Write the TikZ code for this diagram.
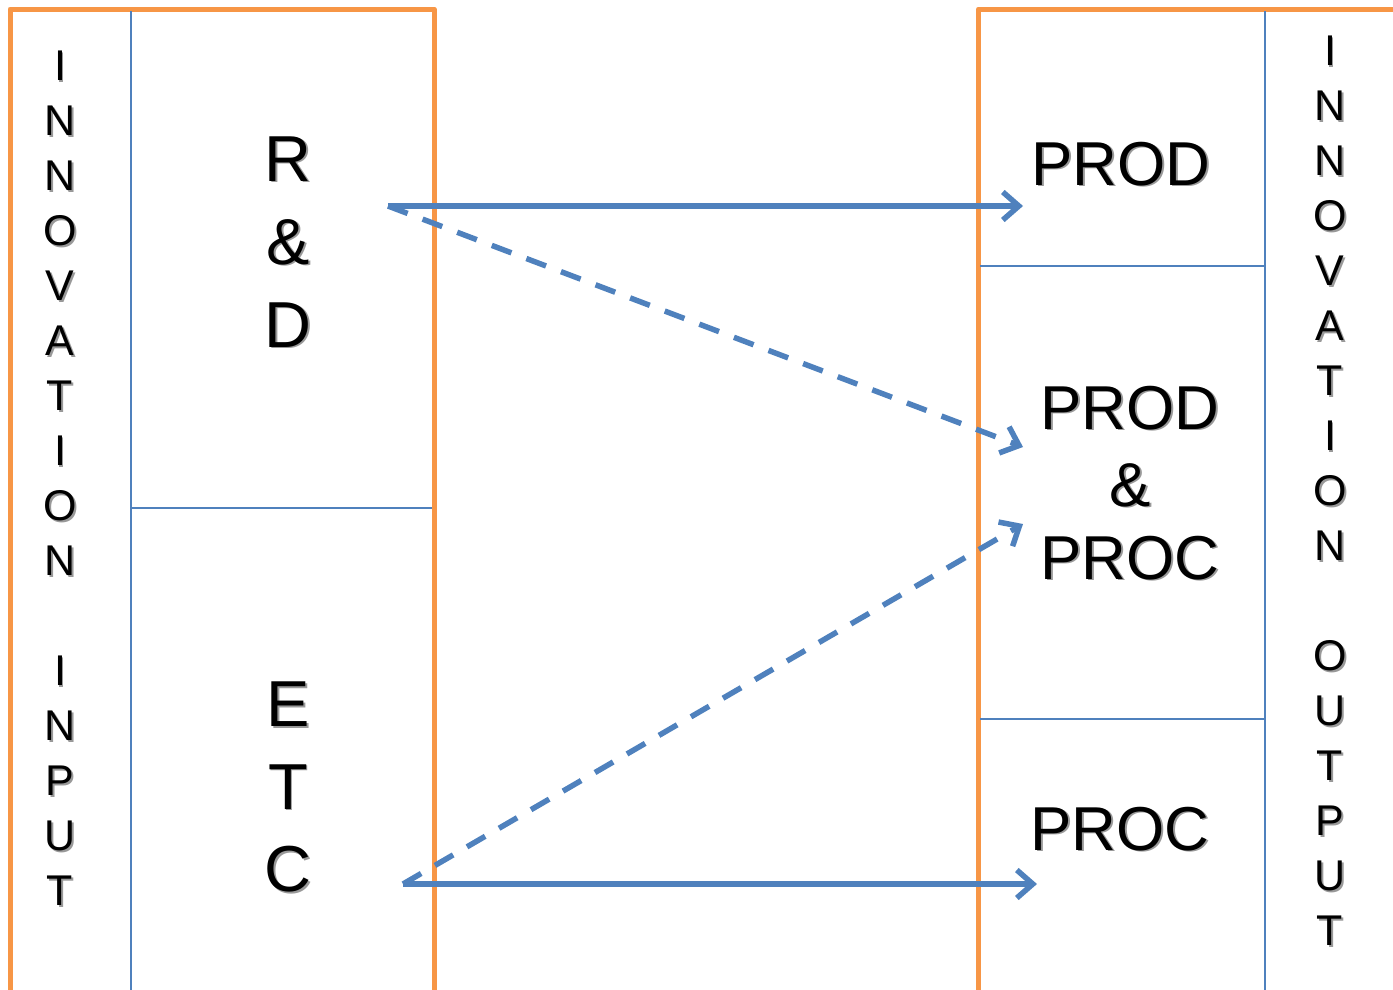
\documentclass[tikz,border=0pt]{standalone}
\usepackage{fontspec}
\setmainfont{Liberation Sans}
\usetikzlibrary{arrows.meta}
\definecolor{orng}{HTML}{F79646}
\definecolor{blu}{HTML}{4F81BD}
\newcommand\shd[1]{\makebox[0pt][l]{\kern1.8pt\raisebox{-1.8pt}{\textcolor{black!40}{#1}}}#1}
\begin{document}
\begin{tikzpicture}[x=1pt,y=-1pt,
  frame/.style={draw=orng, line width=5pt, line join=round},
  divider/.style={draw=blu, line width=1.6pt},
  vletter/.style={anchor=base, inner sep=0pt, font=\fontsize{43}{43}\selectfont},
  bigtxt/.style={anchor=base, inner sep=0pt, font=\fontsize{65}{65}\selectfont},
  boxtxt/.style={anchor=base, inner sep=0pt, font=\fontsize{62}{62}\selectfont},
  link/.style={draw=blu, line width=5.5pt, -{Straight Barb[length=16pt,width=28pt]}},
  dashlink/.style={link, dash pattern=on 21pt off 16pt}]
\useasboundingbox (0,0) rectangle (1393,989);
\begin{scope}
\clip (0,0) rectangle (1393,989);
% frames
\draw[frame] (10,1010) -- (10,9) -- (434,9) -- (434,1010);
\draw[frame] (978.5,1010) -- (978.5,9) -- (1410,9);
% dividers
\draw[divider] (131,11) -- (131,1000);
\draw[divider] (131,508) -- (432,508);
\draw[divider] (1265,11) -- (1265,1000);
\draw[divider] (980,266) -- (1265,266);
\draw[divider] (980,719) -- (1265,719);
\end{scope}
% vertical labels
\foreach \k/\l in {0/I,1/N,2/N,3/O,4/V,5/A,6/T,7/I,8/O,9/N,11/I,12/N,13/P,14/U,15/T}
  \node[vletter] (inL\k) at (60,80.5+55*\k) {\shd{\l}};
\foreach \k/\l in {0/I,1/N,2/N,3/O,4/V,5/A,6/T,7/I,8/O,9/N,11/O,12/U,13/T,14/P,15/U,16/T}
  \node[vletter] (outL\k) at (1330,65.5+55*\k) {\shd{\l}};
% R & D
\node[bigtxt] (rdR) at (288,181) {\shd{R}};
\node[bigtxt] (rdA) at (288,264) {\shd{\&}};
\node[bigtxt] (rdD) at (288,347) {\shd{D}};
% E T C
\node[bigtxt] (etcE) at (288,726.5) {\shd{E}};
\node[bigtxt] (etcT) at (288,809) {\shd{T}};
\node[bigtxt] (etcC) at (288,891.5) {\shd{C}};
% outputs
\node[boxtxt] (prod) at (1121,185) {\shd{PROD}};
\node[boxtxt] (ppA) at (1130,429) {\shd{PROD}};
\node[boxtxt] (ppB) at (1130,506) {\shd{\&}};
\node[boxtxt] (ppC) at (1130,579) {\shd{PROC}};
\node[boxtxt] (proc) at (1120,850) {\shd{PROC}};
% connectors
\coordinate (rdsrc) at (388,206);
\coordinate (etcsrc) at (403,884);
\coordinate (prodtip) at (1023,206);
\coordinate (pptop) at (1023,447);
\coordinate (ppbot) at (1023,524);
\coordinate (proctip) at (1037,884);
\draw[link] (rdsrc) -- (prodtip);
\draw[dashlink] (rdsrc) -- (pptop);
\draw[dashlink] (etcsrc) -- (ppbot);
\draw[link] (etcsrc) -- (proctip);
\end{tikzpicture}
\end{document}
